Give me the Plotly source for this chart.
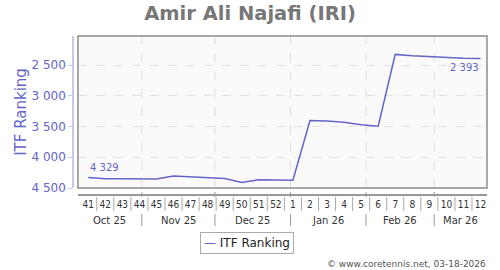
import datetime as dt
import plotly.graph_objects as go

# ---- data ----
weeks = [41, 42, 43, 44, 45, 46, 47, 48, 49, 50, 51, 52, 1, 2, 3, 4, 5, 6, 7, 8, 9, 10, 11, 12]
years = [2025] * 12 + [2026] * 12
itf_ranking = [4329, 4350, 4350, 4350, 4352, 4305, 4322, 4330, 4345, 4412, 4365, 4370,
               4372, 3403, 3410, 3432, 3470, 3495, 2327, 2350, 2366, 2380, 2390, 2393]
y_ticks = [2500, 3000, 3500, 4000, 4500]
months = [(2025, 10), (2025, 11), (2025, 12), (2026, 1), (2026, 2), (2026, 3)]
title = "Amir Ali Najafi (IRI)"
series_name = "ITF Ranking"
credit = "© www.coretennis.net, 03-18-2026"

# ---- layout constants ----
W, H = 500, 270
ML, MR, MT, MB = 73, 13, 36, 75
PW, PH = W - ML - MR, H - MT - MB
BLUE = "#6464c8"
FONT = "DejaVu Sans"
XMIN, XMAX = -0.6, 23.38

def py(p):  # pixel y -> paper y
    return (H - MB - p) / PH

def px(p):
    return (p - ML) / PW

idx = list(range(len(weeks)))
fridays = [dt.date.fromisocalendar(y, w, 5) for y, w in zip(years, weeks)]
d0 = fridays[0]

def date_idx(d):
    return (d - d0).days / 7.0

month_starts = [dt.date(y, m, 1) for y, m in months]
month_ends = month_starts[1:] + [dt.date(2026, 4, 1)]

fmt = lambda v: f"{v:,}".replace(",", " ")

fig = go.Figure()
fig.add_trace(go.Scatter(x=idx, y=itf_ranking, mode="lines", name=series_name,
                         line=dict(color=BLUE, width=1.5), showlegend=False))

shapes = []
annotations = []

# month boundaries: grid lines + separators
for ms in month_starts[1:]:
    xb = date_idx(ms)
    shapes.append(dict(type="line", xref="x", yref="y domain", x0=xb, x1=xb, y0=0, y1=1,
                       line=dict(color="#dddddd", width=1, dash="dash"), layer="below"))
    shapes.append(dict(type="line", xref="x", yref="paper", x0=xb, x1=xb,
                       y0=py(214), y1=py(226), line=dict(color="#999999", width=1)))
    shapes.append(dict(type="line", xref="x", yref="paper", x0=xb, x1=xb,
                       y0=py(192), y1=py(197), line=dict(color="#999999", width=1)))

# week separators
for i in idx[:-1]:
    shapes.append(dict(type="line", xref="x", yref="paper", x0=i + 0.5, x1=i + 0.5,
                       y0=py(197), y1=py(211), line=dict(color="#aaaaaa", width=1)))

# month labels
for ms, me in zip(month_starts, month_ends):
    a = max(date_idx(ms), XMIN)
    b = min(date_idx(me), XMAX)
    annotations.append(dict(x=(a + b) / 2, y=py(220), xref="x", yref="paper",
                            text=ms.strftime("%b %y"), showarrow=False,
                            xanchor="center", yanchor="middle",
                            font=dict(family=FONT, size=10, color="#333333")))

# plot frame
shapes.append(dict(type="rect", xref="x domain", yref="y domain", x0=0, x1=1, y0=0, y1=1,
                   line=dict(color="#8c8c8c", width=1.5), layer="above"))

# first/last value labels
annotations.append(dict(x=idx[0], y=itf_ranking[0], xref="x", yref="y", text=fmt(itf_ranking[0]),
                        showarrow=False, xanchor="left", yanchor="bottom", yshift=2,
                        font=dict(family=FONT, size=10, color=BLUE)))
annotations.append(dict(x=idx[-1], y=itf_ranking[-1], xref="x", yref="y", text=fmt(itf_ranking[-1]),
                        showarrow=False, xanchor="right", yanchor="top", yshift=-2,
                        font=dict(family=FONT, size=10, color=BLUE)))

# legend (box)
annotations.append(dict(x=px(246.7), y=py(243), xref="paper", yref="paper",
                        text=f'<span style="color:{BLUE}">—</span> {series_name}',
                        showarrow=False, xanchor="center", yanchor="middle",
                        bordercolor="#aaaaaa", borderwidth=1, borderpad=3, bgcolor="white",
                        font=dict(family=FONT, size=12, color="#222222")))

# credit
annotations.append(dict(x=px(488), y=py(264), xref="paper", yref="paper", text=credit,
                        showarrow=False, xanchor="right", yanchor="middle",
                        font=dict(family=FONT, size=9, color="#555555")))

fig.update_layout(
    width=W, height=H,
    margin=dict(l=ML, r=MR, t=MT, b=MB, pad=0),
    paper_bgcolor="white", plot_bgcolor="#fafafa",
    separators=". ",
    title=dict(text=f"<b>{title}</b>", x=0.5, xref="container", xanchor="center",
               y=1 - 13 / H, yref="container", yanchor="middle",
               font=dict(family=FONT, size=19.5, color="#777777")),
    xaxis=dict(domain=[5 / PW, 1], anchor="free", position=0, range=[XMIN, XMAX],
               tickmode="array", tickvals=idx, ticktext=[str(w) for w in weeks],
               ticks="", showgrid=False, zeroline=False,
               showline=True, linecolor="#999999", linewidth=1.5,
               tickfont=dict(family="DejaVu Sans Condensed, DejaVu Sans", size=10, color="#333333")),
    yaxis=dict(domain=[7 / PH, 1], anchor="free", position=0, range=[4500, 2028],
               tickmode="array", tickvals=y_ticks, ticktext=[fmt(v) for v in y_ticks],
               ticks="outside", ticklen=4, tickcolor="#c8c8e8",
               showline=True, linecolor="#c8c8e8", linewidth=1.5,
               showgrid=True, gridcolor="#e2e2e2", griddash="dash", zeroline=False,
               tickfont=dict(family=FONT, size=12, color=BLUE),
               title=dict(text=series_name, standoff=0, font=dict(family=FONT, size=15, color=BLUE))),
    shapes=shapes, annotations=annotations, showlegend=False,
)

fig.write_html("out.html")
